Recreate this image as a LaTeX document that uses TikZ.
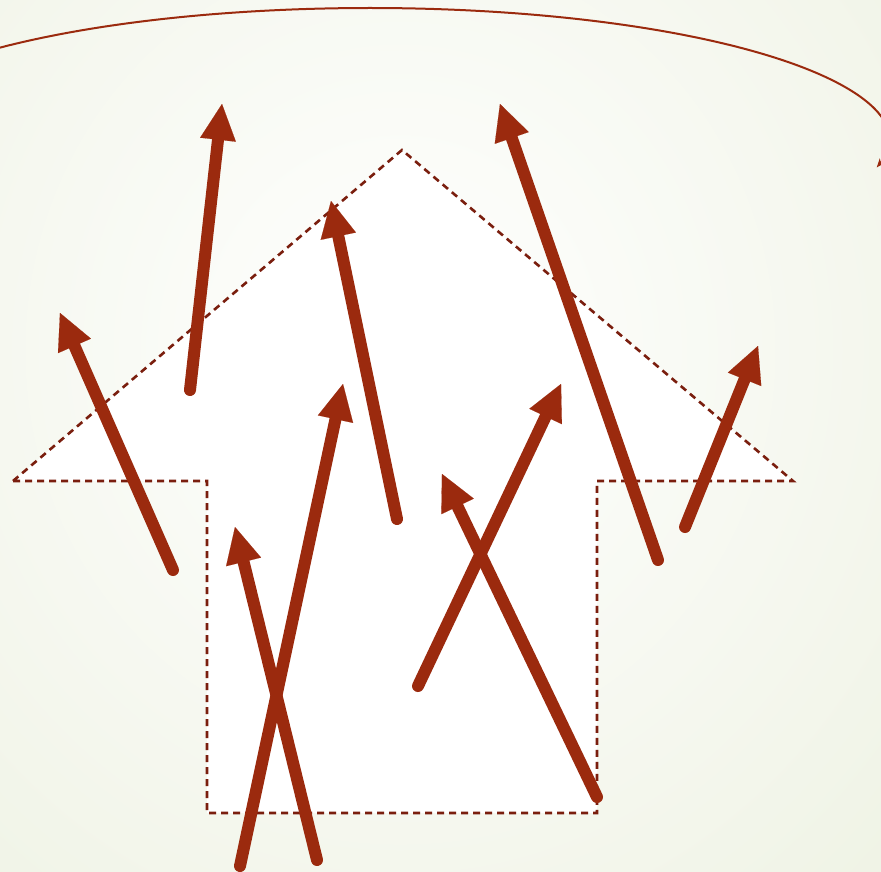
\documentclass[tikz,border=0pt]{standalone}
\usetikzlibrary{arrows.meta}
\definecolor{arrowred}{RGB}{155,42,14}
\definecolor{dashred}{RGB}{122,30,14}
\definecolor{bgouter}{RGB}{238,242,227}
\tikzset{
  bigarrow/.style={line width=12pt, arrowred, line cap=round, -{Triangle[length=36pt,width=36pt,line width=0.1pt,round=false]}},
  outline/.style={dashred, line width=2.6pt, dash pattern=on 7pt off 5pt, fill=white},
}
\begin{document}
\begin{tikzpicture}[x=1pt,y=-1pt]
\useasboundingbox (0,0) rectangle (881,871);
\shade[inner color=white, outer color=bgouter] (-350,-450) rectangle (1150,1150);
\clip (0,0) rectangle (881,871);
% curve at top
\coordinate (cs) at (-2.6,48.3);
\draw[arrowred, line width=2pt, -{Stealth[length=9pt,width=7pt]}] (cs) arc[start angle=-136, end angle=12, x radius=518, y radius=132];
% dashed arrow outline
\draw[outline] (13,481) -- (402,150) -- (793,481) -- (597,481) -- (597,813) -- (207,813) -- (207,481) -- cycle;
% arrows
\coordinate (t1) at (190,390); \coordinate (h1) at (222,104);
\coordinate (t2) at (173,570); \coordinate (h2) at (60,313);
\coordinate (t3) at (397,519); \coordinate (h3) at (331,201);
\coordinate (t4) at (240,866); \coordinate (h4) at (343,384);
\coordinate (t5) at (317,860); \coordinate (h5) at (235,527);
\coordinate (t6) at (418,686); \coordinate (h6) at (561,384);
\coordinate (t7) at (597,797); \coordinate (h7) at (442,474);
\coordinate (t8) at (658,560); \coordinate (h8) at (500,104);
\coordinate (t9) at (685,527); \coordinate (h9) at (758,346);
\foreach \i in {1,...,9} \draw[bigarrow] (t\i) -- (h\i);
\end{tikzpicture}
\end{document}
